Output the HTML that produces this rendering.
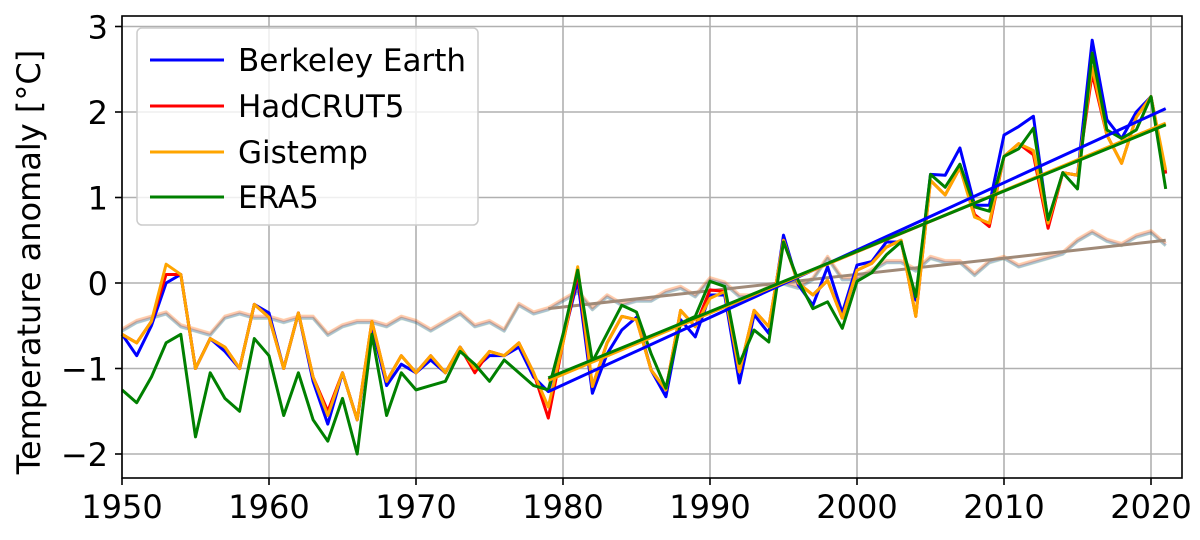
<!DOCTYPE html>
<html><head><meta charset="utf-8"><style>
html,body{margin:0;padding:0;background:#fff;}
svg{display:block;font-family:"DejaVu Sans","Liberation Sans",sans-serif;}
</style></head><body>
<svg id="s" width="1200" height="540" viewBox="0 0 1200 540" xmlns="http://www.w3.org/2000/svg">
<g id="grid" stroke="#b0b0b0" stroke-width="1.6"></g>
<g id="lines" fill="none" stroke-linejoin="round"></g>
<rect x="122" y="16" width="1060" height="462" fill="none" stroke="#000" stroke-width="1.6"/>
<g id="ticks" font-size="32" fill="#000"></g>
<text transform="translate(40,262) rotate(-90)" font-size="32" text-anchor="middle">Temperature anomaly [°C]</text>
<g>
<rect x="137" y="28" width="341" height="197" rx="5" fill="#fff" fill-opacity="0.8" stroke="#ccc" stroke-width="1.5"/>
<line x1="150" y1="60" x2="224" y2="60" stroke="#0000ff" stroke-width="3"/>
<line x1="150" y1="106" x2="224" y2="106" stroke="#ff0000" stroke-width="3"/>
<line x1="150" y1="152" x2="224" y2="152" stroke="#ffa500" stroke-width="3"/>
<line x1="150" y1="197" x2="224" y2="197" stroke="#008000" stroke-width="3"/>
<text x="238" y="71" font-size="31">Berkeley Earth</text>
<text x="238" y="117" font-size="31">HadCRUT5</text>
<text x="238" y="163" font-size="31">Gistemp</text>
<text x="238" y="208" font-size="31">ERA5</text>
</g>
</svg>
<script>
const X=y=>122+(y-1950)*14.7, Y=v=>283-85.5*v;
const NS="http://www.w3.org/2000/svg";
function el(p,t,a,txt){const e=document.createElementNS(NS,t);for(const k in a)e.setAttribute(k,a[k]);if(txt!=null)e.textContent=txt;document.getElementById(p).appendChild(e);return e;}
for(let y=1950;y<=2020;y+=10){el("grid","line",{x1:X(y),y1:16,x2:X(y),y2:478});el("ticks","line",{x1:X(y),y1:478,x2:X(y),y2:485,stroke:"#000","stroke-width":1.6});el("ticks","text",{x:X(y),y:518,"text-anchor":"middle"},String(y));}
for(let v=-2;v<=3;v++){el("grid","line",{x1:122,y1:Y(v),x2:1182,y2:Y(v)});el("ticks","line",{x1:115,y1:Y(v),x2:122,y2:Y(v),stroke:"#000","stroke-width":1.6});el("ticks","text",{x:108,y:Y(v)+12,"text-anchor":"end"},v<0?"\u2212"+(-v):String(v));}
const early_o=[-0.6,-0.7,-0.45,0.22,0.1,-1.0,-0.65,-0.75,-1.0,-0.25,-0.4,-1.0,-0.35,-1.1,-1.55,-1.05,-1.6,-0.45,-1.15,-0.85,-1.05,-0.85,-1.05,-0.75,-1.0,-0.8,-0.85,-0.7,-1.05];
const early_b=[-0.6,-0.85,-0.5,0.0,0.1,-1.0,-0.65,-0.8,-1.0,-0.25,-0.35,-1.0,-0.35,-1.15,-1.65,-1.05,-1.6,-0.5,-1.2,-0.95,-1.05,-0.9,-1.05,-0.75,-1.0,-0.85,-0.85,-0.75,-1.1];
const early_g=[-1.25,-1.4,-1.1,-0.7,-0.6,-1.8,-1.05,-1.35,-1.5,-0.65,-0.85,-1.55,-1.05,-1.6,-1.85,-1.35,-2.0,-0.6,-1.55,-1.05,-1.25,-1.2,-1.15,-0.8,-0.95,-1.15,-0.9,-1.05,-1.2];
const late_b=[-1.27,-0.65,0.03,-1.29,-0.83,-0.55,-0.4,-1.02,-1.33,-0.43,-0.63,-0.14,-0.14,-1.17,-0.37,-0.59,0.56,-0.02,-0.26,0.19,-0.35,0.21,0.25,0.48,0.48,-0.2,1.27,1.26,1.58,0.91,0.91,1.73,1.83,1.95,0.7,1.29,1.26,2.84,1.91,1.69,2.0,2.18,1.28];
const late_o=[-1.45,-0.7,0.19,-1.21,-0.7,-0.39,-0.43,-1.02,-1.25,-0.32,-0.51,-0.18,-0.1,-1.04,-0.32,-0.51,0.5,0.0,-0.14,0.03,-0.41,0.15,0.23,0.42,0.5,-0.39,1.2,1.03,1.35,0.77,0.7,1.48,1.63,1.55,0.7,1.29,1.26,2.53,1.73,1.4,1.94,2.18,1.32];
const late_r=late_o.slice();late_r[0]=-1.58;late_r[11]=-0.08;late_r[29]=0.8;late_r[30]=0.66;late_r[33]=1.5;late_r[34]=0.64;late_r[37]=2.45;late_r[42]=1.28;late_r[2]=0.12;
const late_g=[-1.25,-0.6,0.15,-0.92,-0.59,-0.26,-0.34,-0.83,-1.23,-0.47,-0.39,0.02,-0.04,-0.94,-0.55,-0.69,0.48,0.03,-0.3,-0.22,-0.53,0.02,0.12,0.33,0.48,-0.16,1.27,1.12,1.39,0.89,0.84,1.48,1.57,1.81,0.74,1.29,1.1,2.69,1.79,1.69,1.79,2.18,1.1];
const early_r=early_o.slice();early_r[3]=0.1;early_r[14]=-1.5;early_r[24]=-1.05;
const faint=[-0.55,-0.45,-0.4,-0.35,-0.5,-0.55,-0.6,-0.4,-0.35,-0.4,-0.4,-0.45,-0.4,-0.4,-0.6,-0.5,-0.45,-0.45,-0.5,-0.4,-0.45,-0.55,-0.45,-0.35,-0.5,-0.45,-0.55,-0.25,-0.35,-0.3,-0.2,-0.1,-0.3,-0.15,-0.25,-0.2,-0.2,-0.1,-0.05,-0.15,0.05,0.0,-0.15,-0.15,-0.05,0.0,-0.05,0.05,0.3,0.05,0.05,0.15,0.25,0.25,0.15,0.3,0.25,0.25,0.1,0.25,0.3,0.2,0.25,0.3,0.35,0.5,0.6,0.5,0.45,0.55,0.6,0.45];
function poly(d,c,w,op){el("lines","polyline",{points:d.map((v,i)=>X(1950+i)+","+Y(v)).join(" "),stroke:c,"stroke-width":w,"stroke-opacity":op});}
const cols=[["#0000ff",-0.01],["#ff0000",0.01],["#ffa500",0.015],["#008000",-0.015]];
cols.forEach(([c,o])=>poly(faint.map(v=>v+o),c,3,0.18));
el("lines","line",{x1:X(1979),y1:Y(-0.3),x2:X(2021),y2:Y(0.5),stroke:"#a08a78","stroke-width":3});
poly(early_b.concat(late_b),"#0000ff",3,1);
poly(early_r.concat(late_r),"#ff0000",3,1);
poly(early_o.concat(late_o),"#ffa500",3,1);
poly(early_g.concat(late_g),"#008000",3,1);
el("lines","line",{x1:X(1979),y1:Y(-1.27),x2:X(2021),y2:Y(2.04),stroke:"#0000ff","stroke-width":3});
el("lines","line",{x1:X(1979),y1:Y(-1.13),x2:X(2021),y2:Y(1.86),stroke:"#ff0000","stroke-width":3});
el("lines","line",{x1:X(1979),y1:Y(-1.14),x2:X(2021),y2:Y(1.87),stroke:"#ffa500","stroke-width":3});
el("lines","line",{x1:X(1979),y1:Y(-1.11),x2:X(2021),y2:Y(1.85),stroke:"#008000","stroke-width":3});
</script>
</body></html>
